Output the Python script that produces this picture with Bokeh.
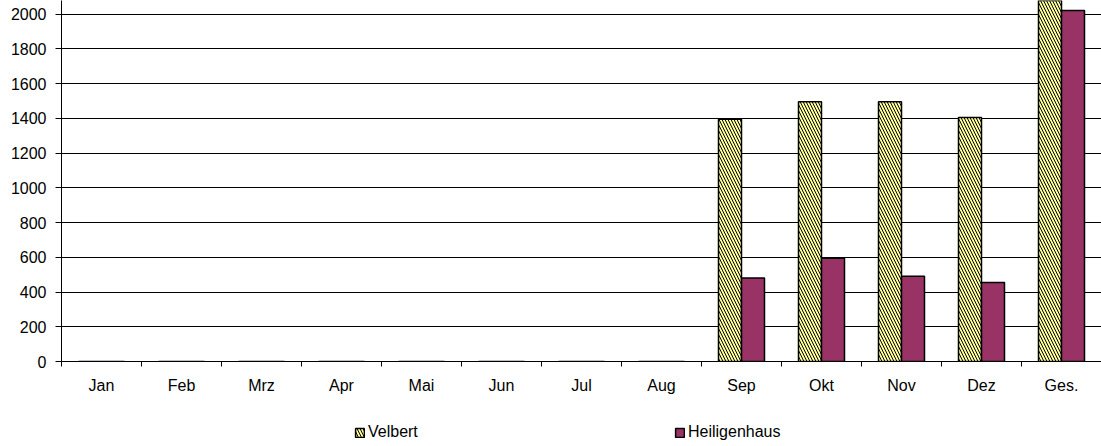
import numpy as np
from bokeh.plotting import figure
from bokeh.layouts import column
from bokeh.models import ColumnDataSource, Range1d, FixedTicker, Legend, LegendItem
from bokeh.transform import dodge
from bokeh.embed import file_html
from bokeh.resources import INLINE

# Monthly figures per location; the last column is the yearly total
months = ["Jan", "Feb", "Mrz", "Apr", "Mai", "Jun", "Jul", "Aug", "Sep", "Okt", "Nov", "Dez", "Ges."]
velbert = [0, 0, 0, 0, 0, 0, 0, 0, 1395, 1495, 1495, 1405, 5790]
heiligenhaus = [0, 0, 0, 0, 0, 0, 0, 0, 480, 595, 490, 455, 2020]
y_ticks = [0, 200, 400, 600, 800, 1000, 1200, 1400, 1600, 1800, 2000]

FONT = "Liberation Sans"
FS = "16px"

centers = np.arange(len(months)) + 0.5
source = ColumnDataSource(dict(x=centers, month=months, velbert=velbert, heiligenhaus=heiligenhaus))

bar_w = 0.2875
velbert_style = dict(fill_color="#FFFF99", line_color="black", line_width=1.5,
                     hatch_pattern="left_diagonal_line", hatch_color="black",
                     hatch_scale=6, hatch_weight=1)
heiligenhaus_style = dict(fill_color="#993366", line_color="black", line_width=1.5)

p = figure(width=1101, height=405, output_backend="svg", toolbar_location=None,
           x_range=Range1d(0, len(months)), y_range=Range1d(0, 2078),
           min_border_left=61, min_border_right=0, min_border_top=0, min_border_bottom=44)
p.outline_line_color = None
p.background_fill_color = "white"
p.border_fill_color = "white"

p.vbar(x=dodge("x", -bar_w / 2), top="velbert", width=bar_w, source=source, **velbert_style)
p.vbar(x=dodge("x", bar_w / 2), top="heiligenhaus", width=bar_w, source=source, **heiligenhaus_style)

# y axis: fixed ticks every 200, outside tick marks
p.yaxis.ticker = FixedTicker(ticks=y_ticks)
p.yaxis.axis_line_color = "black"
p.yaxis.major_tick_line_color = "black"
p.yaxis.major_tick_out = 6
p.yaxis.major_tick_in = 0
p.yaxis.minor_tick_line_color = None
p.yaxis.major_label_standoff = 9
p.yaxis.major_label_text_font = FONT
p.yaxis.major_label_text_font_size = FS
p.yaxis.major_label_text_color = "black"

# x axis: labels at category centres, tick marks at category boundaries
p.xaxis.ticker = FixedTicker(ticks=list(centers), minor_ticks=list(range(len(months) + 1)))
p.xaxis.major_label_overrides = {float(c): m for c, m in zip(centers, months)}
p.xaxis.axis_line_color = "black"
p.xaxis.major_tick_line_color = None
p.xaxis.major_tick_out = 0
p.xaxis.major_tick_in = 0
p.xaxis.minor_tick_line_color = "black"
p.xaxis.minor_tick_out = 5
p.xaxis.minor_tick_in = 0
p.xaxis.major_label_standoff = 10
p.xaxis.major_label_text_font = FONT
p.xaxis.major_label_text_font_size = FS
p.xaxis.major_label_text_color = "black"

p.xgrid.grid_line_color = None
p.ygrid.ticker = FixedTicker(ticks=y_ticks)
p.ygrid.grid_line_color = "black"
p.ygrid.grid_line_width = 1

# legend strip underneath the chart; its swatches come from hidden copies of the series
lg = figure(width=1101, height=41, output_backend="svg", toolbar_location=None,
            x_range=Range1d(0, 1), y_range=Range1d(0, 1),
            x_axis_location=None, y_axis_location=None,
            min_border_left=0, min_border_right=0, min_border_top=0, min_border_bottom=0)
lg.outline_line_color = None
lg.grid.grid_line_color = None
lg.background_fill_color = "white"
lg.border_fill_color = "white"
lv = lg.vbar(x="x", top="velbert", width=bar_w, source=source, visible=False, **velbert_style)
lh = lg.vbar(x="x", top="heiligenhaus", width=bar_w, source=source, visible=False, **heiligenhaus_style)

legend = Legend(items=[LegendItem(label="Velbert", renderers=[lv]),
                       LegendItem(label="Heiligenhaus", renderers=[lh])],
                orientation="horizontal", location=(293, 4),
                padding=0, margin=0, spacing=0, border_line_color=None,
                background_fill_alpha=0, glyph_width=11, glyph_height=11,
                label_standoff=3, label_width=306, label_height=20,
                inactive_fill_alpha=0,
                label_text_font=FONT, label_text_font_size=FS, label_text_color="black")
lg.add_layout(legend)

open("out.html", "w").write(file_html(column(p, lg, spacing=0), INLINE))
